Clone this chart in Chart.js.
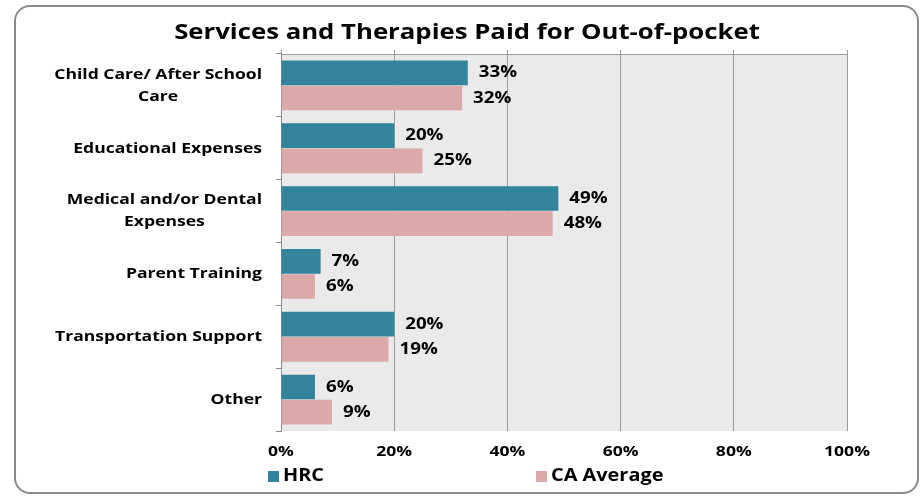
<!DOCTYPE html>
<html><head><meta charset="utf-8">
<script src="https://cdn.jsdelivr.net/npm/chart.js@4"></script>
<style>html,body{margin:0;padding:0;background:#fff;} canvas{display:block}</style>
</head><body>
<canvas id="c" width="921" height="498"></canvas>
<script>
const categories = [["Child Care/ After School","Care"],["Educational Expenses"],["Medical and/or Dental","Expenses"],["Parent Training"],["Transportation Support"],["Other"]];
const hrcValues = [33, 20, 49, 7, 20, 6];
const caValues = [32, 25, 48, 6, 19, 9];
const xTickValues = [0, 20, 40, 60, 80, 100];
const seriesNames = ["HRC", "CA Average"];
const seriesColors = ["#31849B", "#DBA9A8"];
const titleText = "Services and Therapies Paid for Out-of-pocket";

const FONT = "'Open Sans', sans-serif";
const GRID = "#9c9c9c";
const SX = 1.17; // horizontal text stretch

// draw text stretched horizontally; align: 'left' | 'center' | 'right'
function stretchText(ctx, text, x, y, align) {
  const w = ctx.measureText(text).width * SX;
  let left = x;
  if (align === 'center') left = x - w / 2;
  else if (align === 'right') left = x - w;
  ctx.save();
  ctx.textAlign = 'left';
  ctx.translate(left, y);
  ctx.scale(SX, 1);
  ctx.fillText(text, 0, 0);
  ctx.restore();
}

const framePlugin = {
  id: 'frame',
  beforeDraw(chart) {
    const ctx = chart.ctx, a = chart.chartArea;
    ctx.save();
    ctx.fillStyle = '#fff';
    ctx.fillRect(0, 0, chart.width, chart.height);
    ctx.strokeStyle = '#8a8a8a';
    ctx.lineWidth = 2;
    ctx.beginPath();
    ctx.roundRect(15, 6, 903, 487, 15);
    ctx.stroke();
    ctx.fillStyle = '#EAEAEA';
    ctx.fillRect(a.left, a.top, a.right - a.left, a.bottom - a.top);
    ctx.restore();
  }
};

const textPlugin = {
  id: 'texts',
  afterDraw(chart) {
    const ctx = chart.ctx, ys = chart.scales.y, xs = chart.scales.x, a = chart.chartArea;
    ctx.save();
    ctx.fillStyle = '#000';
    ctx.textBaseline = 'middle';

    // title
    ctx.font = "bold 22px " + FONT;
    stretchText(ctx, titleText, (a.left + a.right) / 2 - 97, 33, 'center');

    // category labels
    ctx.font = "bold 15px " + FONT;
    const right = a.left - 19;
    const lh = 22;
    categories.forEach((lines, i) => {
      const y = ys.getPixelForValue(i);
      const w = Math.max(...lines.map(l => ctx.measureText(l).width)) * SX;
      const cx = right - w / 2;
      lines.forEach((l, j) => {
        stretchText(ctx, l, cx, y + (j - (lines.length - 1) / 2) * lh, 'center');
      });
    });

    // x tick labels
    ctx.font = "bold 15px " + FONT;
    xTickValues.forEach(v => {
      stretchText(ctx, v + '%', xs.getPixelForValue(v), a.bottom + 21, 'center');
    });

    // legend
    ctx.font = "bold 17px " + FONT;
    const ly = 476;
    const lx = [268, 536];
    seriesNames.forEach((n, i) => {
      ctx.fillStyle = seriesColors[i];
      ctx.fillRect(lx[i], ly - 5, 11, 11);
      ctx.fillStyle = '#000';
      stretchText(ctx, n, lx[i] + 15, ly, 'left');
    });
    ctx.restore();
  }
};

const dataLabelPlugin = {
  id: 'dlabels',
  afterDatasetsDraw(chart) {
    const ctx = chart.ctx;
    ctx.save();
    ctx.font = "bold 16px " + FONT;
    ctx.fillStyle = '#000';
    ctx.textBaseline = 'middle';
    chart.data.datasets.forEach((ds, di) => {
      const meta = chart.getDatasetMeta(di);
      meta.data.forEach((el, i) => {
        stretchText(ctx, ds.data[i] + '%', el.x + 11, el.y, 'left');
      });
    });
    ctx.restore();
  }
};

new Chart(document.getElementById('c'), {
  type: 'bar',
  data: {
    labels: categories,
    datasets: [
      { label: seriesNames[0], data: hrcValues, backgroundColor: seriesColors[0], xAxisID: 'x', yAxisID: 'y' },
      { label: seriesNames[1], data: caValues, backgroundColor: seriesColors[1], xAxisID: 'x', yAxisID: 'y' }
    ]
  },
  options: {
    indexAxis: 'y',
    responsive: false,
    animation: false,
    devicePixelRatio: 1,
    layout: { padding: { left: 0, right: 74, top: 50, bottom: 0 } },
    datasets: { bar: { categoryPercentage: 0.8, barPercentage: 0.98 } },
    plugins: {
      legend: { display: false },
      tooltip: { enabled: false },
      title: { display: false }
    },
    scales: {
      x: {
        type: 'linear', position: 'bottom', min: 0, max: 100,
        afterBuildTicks(s) { s.ticks = xTickValues.map(v => ({ value: v })); },
        ticks: { display: false },
        grid: { color: GRID, drawTicks: false, lineWidth: 1 },
        border: { display: false },
        afterFit(s) { s.height = 67; }
      },
      xTop: {
        type: 'linear', position: 'top', min: 0, max: 100,
        afterBuildTicks(s) { s.ticks = xTickValues.map(v => ({ value: v })); },
        ticks: { display: false },
        grid: { drawOnChartArea: false, drawTicks: true, tickLength: 4, color: GRID },
        border: { display: true, color: GRID },
        afterFit(s) { s.height = 4; }
      },
      y: {
        type: 'category', position: 'left',
        ticks: { display: false },
        grid: { drawOnChartArea: false, drawTicks: true, tickLength: 5, color: '#888', offset: true },
        border: { display: true, color: '#888' },
        afterFit(s) { s.width = 281; }
      }
    }
  },
  plugins: [framePlugin, dataLabelPlugin, textPlugin]
});
</script>
</body></html>
